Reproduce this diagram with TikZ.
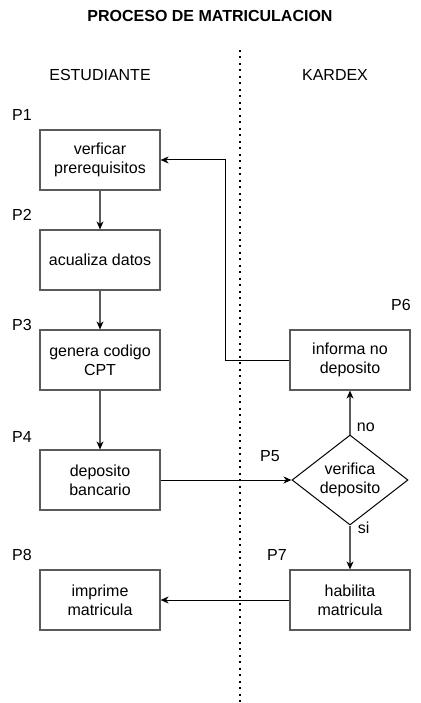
\documentclass[tikz,border=0pt]{standalone}
\usepackage{fontspec}
\setmainfont{Liberation Sans}
\usetikzlibrary{arrows.meta,shapes.geometric}
\definecolor{linegray}{HTML}{5A5A5A}
\begin{document}
\begin{tikzpicture}[x=1pt,y=-1pt,
	font=\fontsize{16}{19}\selectfont,
	proc/.style={draw=linegray, line width=1.2pt, minimum width=120pt, minimum height=60pt, inner sep=0pt, align=center},
	decide/.style={diamond, draw=black, line width=1pt, minimum width=116pt, minimum height=90pt, inner sep=0pt, aspect=1.29, align=center},
	flow/.style={-{Stealth[length=8pt,width=7pt,inset=2.5pt,color=black]}, line width=1.1pt}]
	\useasboundingbox (0,0) rectangle (420,703);
	% titulos
	\node [font=\fontsize{16}{19}\selectfont\bfseries] (title) at (210,16) {PROCESO DE MATRICULACION};
	\node (est) at (100,75) {ESTUDIANTE};
	\node (kar) at (335,75) {KARDEX};
	\coordinate (sep top) at (240,50);
	\coordinate (sep bot) at (240,703);
	\draw [line width=2pt, dash pattern=on 2pt off 4.5pt] (sep top) to (sep bot);
	% pasos
	\node [proc] (p1) at (100,160) {verficar\\prerequisitos};
	\node [proc] (p2) at (100,260) {acualiza datos};
	\node [proc] (p3) at (100,360) {genera codigo\\CPT};
	\node [proc] (p4) at (100,480) {deposito\\bancario};
	\node [decide] (p5) at (350,480) {verifica\\deposito};
	\node [proc] (p6) at (350,360) {informa no\\deposito};
	\node [proc] (p7) at (350,600) {habilita\\matricula};
	\node [proc] (p8) at (100,600) {imprime\\matricula};
	% etiquetas
	\node (l1) at (22,115) {P1};
	\node (l2) at (22,215) {P2};
	\node (l3) at (22,325) {P3};
	\node (l4) at (22,437) {P4};
	\node (l5) at (270,456) {P5};
	\node (l6) at (401,305) {P6};
	\node (l7) at (277,555) {P7};
	\node (l8) at (22,555) {P8};
	% flujo
	\draw [flow, linegray] (p1) to (p2);
	\draw [flow, linegray] (p2) to (p3);
	\draw [flow, linegray] (p3) to (p4);
	\draw [flow, line width=1pt] (p4) to (p5);
	\draw [flow, linegray] (p5) to node [at start, anchor=south west, xshift=3pt, yshift=-1pt, black] {no} (p6);
	\draw [flow, linegray] (p5) to node [at start, anchor=west, xshift=4pt, yshift=-2pt, black] {si} (p7);
	\coordinate (back) at (225,160);
	\draw [flow, line width=1pt] (p6.west) -| (back) to (p1.east);
	\draw [flow, line width=1pt] (p7) to (p8);
\end{tikzpicture}
\end{document}
